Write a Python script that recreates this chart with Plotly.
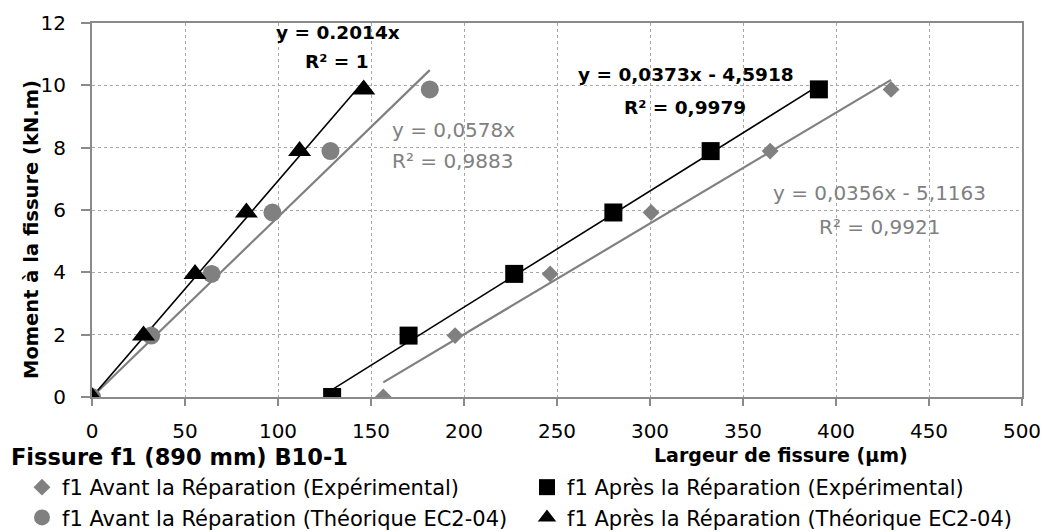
import numpy as np
import plotly.graph_objects as go

# ---------------- data ----------------
moment = [0, 1.97, 3.95, 5.92, 7.89, 9.87]                       # kN.m
w_avant_exp = [156.6, 195.2, 246.3, 300.6, 364.6, 429.6]         # µm
w_apres_exp = [129.1, 170.2, 227.0, 280.3, 332.6, 390.8]
w_avant_theo = [0, 31.8, 64.3, 97.0, 128.2, 181.6]
w_apres_theo = [0, 27.7, 55.4, 83.0, 111.6, 146.1]

series_names = [
    "f1 Avant la Réparation (Expérimental)",
    "f1 Après la Réparation (Expérimental)",
    "f1 Avant la Réparation (Théorique EC2-04)",
    "f1 Après la Réparation (Théorique EC2-04)",
]
eq_labels = {
    "apres_theo": ["y = 0.2014x", "R² = 1"],
    "avant_theo": ["y = 0,0578x", "R² = 0,9883"],
    "apres_exp": ["y = 0,0373x - 4,5918", "R² = 0,9979"],
    "avant_exp": ["y = 0,0356x - 5,1163", "R² = 0,9921"],
}
x_ticks = [0, 50, 100, 150, 200, 250, 300, 350, 400, 450, 500]
y_ticks = [0, 2, 4, 6, 8, 10, 12]

# ---------------- styling ----------------
FONT = "DejaVu Sans"
GRAY = "#808080"
AXIS = "#8a8a8a"
GRID = "#a8a8a8"

OFF = 8  # page body margin of the html page
# plot area in page pixels
P_LEFT, P_RIGHT, P_TOP, P_BOTTOM = 92, 1022, 23, 397
W, H = 1048 - OFF, 532 - OFF
L = P_LEFT - OFF
T = P_TOP - OFF
R = W - (P_RIGHT - OFF)
B = H - (P_BOTTOM - OFF)
PW, PH = P_RIGHT - P_LEFT, P_BOTTOM - P_TOP


def px_x(px):
    return (px - P_LEFT) / PW


def px_y(py):
    return (P_BOTTOM - py) / PH


def fit_line(x, y, through_origin=False):
    x = np.asarray(x, float)
    y = np.asarray(y, float)
    if through_origin:
        a = float(np.sum(x * y) / np.sum(x * x))
        b = 0.0
    else:
        a, b = np.polyfit(x, y, 1)
    xs = np.array([x.min(), x.max()])
    return xs, a * xs + b


fig = go.Figure()

# trendlines
for xs_data, through0, col, lw in [
    (w_avant_exp, False, GRAY, 2.2),
    (w_apres_exp, False, "black", 1.6),
    (w_avant_theo, True, GRAY, 2.2),
    (w_apres_theo, True, "black", 1.6),
]:
    lx, ly = fit_line(xs_data, moment, through0)
    fig.add_trace(go.Scatter(x=lx, y=ly, mode="lines", showlegend=False,
                             hoverinfo="skip", line=dict(color=col, width=lw)))

# data markers
fig.add_trace(go.Scatter(x=w_avant_exp, y=moment, mode="markers", name=series_names[0],
                         marker=dict(symbol="diamond", size=13, color=GRAY)))
fig.add_trace(go.Scatter(x=w_apres_exp, y=moment, mode="markers", name=series_names[1],
                         marker=dict(symbol="square", size=18, color="black")))
fig.add_trace(go.Scatter(x=w_avant_theo, y=moment, mode="markers", name=series_names[2],
                         marker=dict(symbol="circle", size=18, color=GRAY)))
fig.add_trace(go.Scatter(x=w_apres_theo, y=moment, mode="markers", name=series_names[3],
                         marker=dict(symbol="triangle-up", size=20, color="black")))

annotations = []


def add_eq(x, y, text, bold, color, size, xanchor="center"):
    t = f"<b>{text}</b>" if bold else text
    annotations.append(dict(x=x, y=y, xref="x", yref="y", text=t, showarrow=False,
                            xanchor=xanchor, yanchor="middle",
                            font=dict(family=FONT, size=size, color=color)))


add_eq(132.4, 11.68, eq_labels["apres_theo"][0], True, "black", 18.5)
add_eq(131.6, 10.75, eq_labels["apres_theo"][1], True, "black", 18.5)
add_eq(160.0, 8.57, eq_labels["avant_theo"][0], False, GRAY, 20, "left")
add_eq(160.0, 7.57, eq_labels["avant_theo"][1], False, GRAY, 20, "left")
add_eq(319.5, 10.36, eq_labels["apres_exp"][0], True, "black", 18.5)
add_eq(319.0, 9.30, eq_labels["apres_exp"][1], True, "black", 18.5)
add_eq(423.2, 6.54, eq_labels["avant_exp"][0], False, GRAY, 20)
add_eq(423.2, 5.45, eq_labels["avant_exp"][1], False, GRAY, 20)

# axis titles and chart title as text
annotations.append(dict(x=px_x(31), y=px_y(230), xref="paper", yref="paper",
                        text="<b>Moment à la fissure (kN.m)</b>", textangle=-90,
                        showarrow=False, xanchor="center", yanchor="middle",
                        font=dict(family=FONT, size=19.5, color="black")))
annotations.append(dict(x=px_x(781), y=px_y(455), xref="paper", yref="paper",
                        text="<b>Largeur de fissure (µm)</b>",
                        showarrow=False, xanchor="center", yanchor="middle",
                        font=dict(family=FONT, size=19, color="black")))
annotations.append(dict(x=px_x(9), y=px_y(457), xref="paper", yref="paper",
                        text="<b>Fissure f1 (890 mm) B10-1</b>",
                        showarrow=False, xanchor="left", yanchor="middle",
                        font=dict(family=FONT, size=22.5, color="black")))

fig.update_layout(
    width=W, height=H,
    margin=dict(l=L, r=R, t=T, b=B, autoexpand=False),
    paper_bgcolor="white", plot_bgcolor="white",
    font=dict(family=FONT, color="black"),
    annotations=annotations,
    legend=dict(orientation="h", x=px_x(22), xanchor="left", y=px_y(467), yanchor="top",
                entrywidth=460, entrywidthmode="pixels", itemwidth=30,
                font=dict(family=FONT, size=21, color="black"),
                bgcolor="rgba(0,0,0,0)", tracegroupgap=0),
)
fig.update_xaxes(range=[0, 500], tickvals=x_ticks, ticks="outside", ticklen=7,
                 tickcolor=AXIS, tickwidth=1.5, showline=True, linecolor=AXIS, linewidth=2,
                 mirror=True, showgrid=True, gridcolor=GRID, griddash="dot", gridwidth=1,
                 zeroline=False, tickfont=dict(family=FONT, size=20, color="black"),
                 ticklabelstandoff=8, fixedrange=True)
fig.update_yaxes(range=[0, 12], tickvals=y_ticks, ticks="outside", ticklen=9,
                 tickcolor=AXIS, tickwidth=1.5, showline=True, linecolor=AXIS, linewidth=2,
                 mirror=True, showgrid=True, gridcolor=GRID, griddash="dot", gridwidth=1,
                 zeroline=False, tickfont=dict(family=FONT, size=20, color="black"),
                 ticklabelstandoff=11, fixedrange=True)

fig.write_html("out.html")
